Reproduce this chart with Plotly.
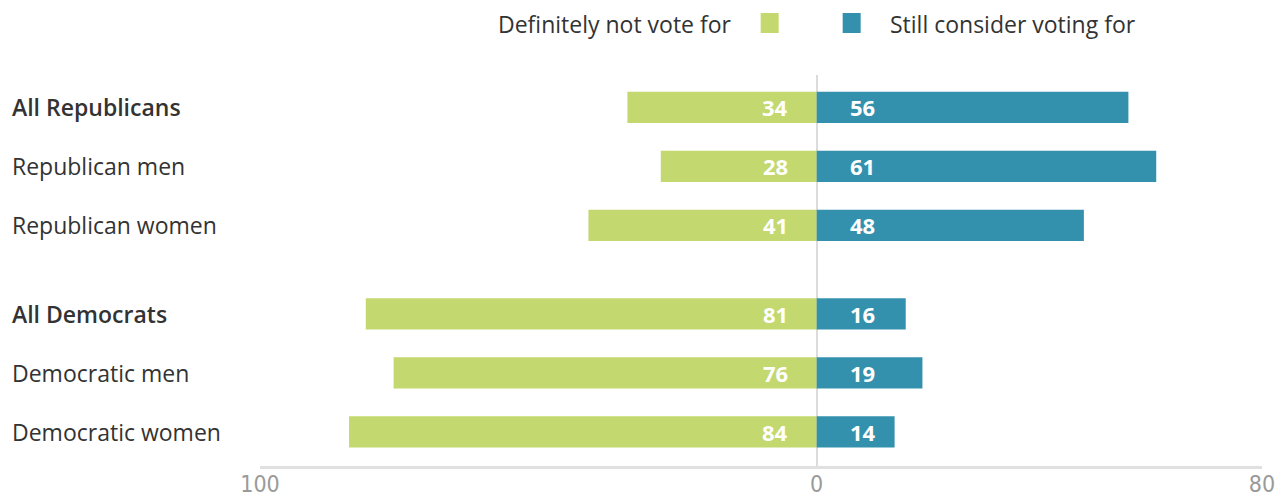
import plotly.graph_objects as go

groups = [
    ["All Republicans", "Republican men", "Republican women"],
    ["All Democrats", "Democratic men", "Democratic women"],
]
bold_labels = ["All Republicans", "All Democrats"]
not_vote = [[34, 28, 41], [81, 76, 84]]
consider = [[56, 61, 48], [16, 19, 14]]
tick_vals = [-100, 0, 80]
tick_text = ["100", "0", "80"]
series_names = ["Definitely not vote for", "Still consider voting for"]

GREEN = "#c3d86e"
BLUE = "#3491ae"
TEXT = "#333333"
FONT = "Open Sans"

labels, pos, nv, cv = [], [], [], []
for gi, g in enumerate(groups):
    for i, lab in enumerate(g):
        labels.append(lab)
        pos.append(gi * 3.5 + i)
        nv.append(not_vote[gi][i])
        cv.append(consider[gi][i])

fig = go.Figure()
fig.add_trace(go.Bar(y=pos, x=[-v for v in nv], base=0, orientation="h",
                     marker=dict(color=GREEN, line=dict(width=0)), width=0.53,
                     name=series_names[0], showlegend=False, hoverinfo="skip"))
fig.add_trace(go.Bar(y=pos, x=cv, orientation="h",
                     marker=dict(color=BLUE, line=dict(width=0)), width=0.53,
                     name=series_names[1], showlegend=False, hoverinfo="skip"))

ann = []
for p, lab, a, b in zip(pos, labels, nv, cv):
    w = 600 if lab in bold_labels else 400
    ann.append(dict(xref="paper", yref="y", x=0, y=p, text=lab, xanchor="left",
                    yanchor="middle", xshift=-250, showarrow=False,
                    font=dict(family=FONT, size=23, color=TEXT, weight=w)))
    ann.append(dict(xref="x", yref="y", x=0, y=p, text=f"<b>{a}</b>", xanchor="right",
                    yanchor="middle", xshift=-27, showarrow=False,
                    font=dict(family=FONT, size=22, color="white")))
    ann.append(dict(xref="x", yref="y", x=0, y=p, text=f"<b>{b}</b>", xanchor="left",
                    yanchor="middle", xshift=31, showarrow=False,
                    font=dict(family=FONT, size=22, color="white")))

# legend (custom: text left of first swatch)
ann.append(dict(xref="x", yref="paper", x=0, y=1, yshift=51, text=series_names[0],
                xanchor="right", yanchor="middle", xshift=-83, showarrow=False,
                font=dict(family=FONT, size=23, color=TEXT)))
ann.append(dict(xref="x", yref="paper", x=0, y=1, yshift=51, text=series_names[1],
                xanchor="left", yanchor="middle", xshift=71, showarrow=False,
                font=dict(family=FONT, size=23, color=TEXT)))
shapes = [
    dict(type="rect", xref="x", yref="paper", xsizemode="pixel", ysizemode="pixel",
         xanchor=0, yanchor=1, x0=-56, x1=-38, y0=42, y1=62,
         fillcolor=GREEN, line=dict(width=0)),
    dict(type="rect", xref="x", yref="paper", xsizemode="pixel", ysizemode="pixel",
         xanchor=0, yanchor=1, x0=26, x1=44, y0=42, y1=62,
         fillcolor=BLUE, line=dict(width=0)),
]

fig.update_layout(
    width=1278, height=489, autosize=False,
    margin=dict(l=252, r=24, t=67, b=31, pad=0),
    paper_bgcolor="white", plot_bgcolor="white",
    barmode="overlay",
    annotations=ann, shapes=shapes,
    xaxis=dict(range=[-100, 80], tickvals=tick_vals, ticktext=tick_text,
               showgrid=False, zeroline=True, zerolinecolor="#dcdcdc", zerolinewidth=2,
               showline=True, linecolor="#e0e0e0", linewidth=3,
               ticks="", layer="above traces", automargin=False,
               ticklabelstandoff=-5,
               tickfont=dict(family="DejaVu Sans Condensed, Open Sans", size=23,
                             color="#9a9a9a", weight=300)),
    yaxis=dict(range=[6.08, -0.55], showticklabels=False, showgrid=False,
               zeroline=False, showline=False, ticks="", automargin=False),
)

fig.write_html("out.html")
